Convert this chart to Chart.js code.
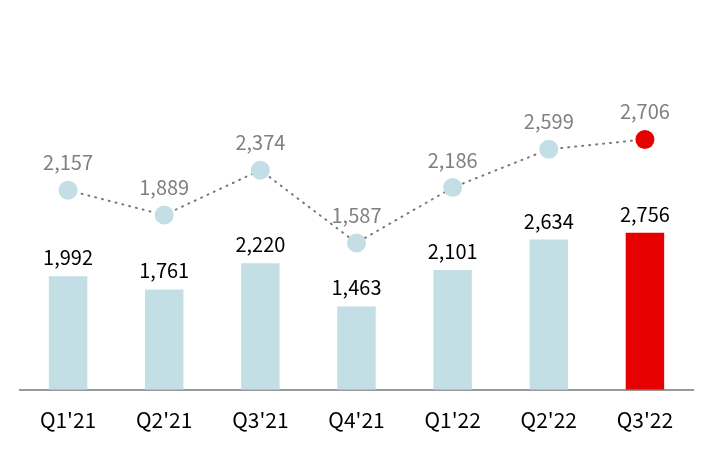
<!DOCTYPE html>
<html>
<head>
<meta charset="utf-8">
<script src="https://cdn.jsdelivr.net/npm/chart.js@4"></script>
<style>
  html, body { margin: 0; padding: 0; background: #fff; }
  #wrap { width: 714px; height: 450px; }
</style>
</head>
<body>
<div id="wrap"><canvas id="quarterChart"></canvas></div>
<script>
// quarterly bars + dotted line
const quarters = ["Q1'21", "Q2'21", "Q3'21", "Q4'21", "Q1'22", "Q2'22", "Q3'22"];
const barValues = [1992, 1761, 2220, 1463, 2101, 2634, 2756];
const lineValues = [2157, 1889, 2374, 1587, 2186, 2599, 2706];

const lightBlue = '#c4dee6';
const red = '#e60000';
const fontFamily = "'Noto Sans CJK KR', 'Noto Sans', sans-serif";

const barColors = barValues.map((v, i) => i === barValues.length - 1 ? red : lightBlue);
const pointColors = lineValues.map((v, i) => i === lineValues.length - 1 ? red : lightBlue);

const valueLabels = {
  id: 'valueLabels',
  afterDatasetsDraw(chart) {
    const ctx = chart.ctx;
    ctx.save();
    ctx.font = '20px ' + fontFamily;
    ctx.textAlign = 'center';
    ctx.textBaseline = 'alphabetic';

    chart.data.datasets.forEach((ds, di) => {
      const meta = chart.getDatasetMeta(di);
      meta.data.forEach((el, i) => {
        const text = ds.data[i].toLocaleString('en-US');
        if (ds.type === 'bar') {
          ctx.fillStyle = '#000';
          ctx.fillText(text, el.x, el.y - 11);
        } else {
          ctx.fillStyle = '#808080';
          ctx.fillText(text, el.x, el.y - 20);
        }
      });
    });
    ctx.restore();
  }
};

new Chart(document.getElementById('quarterChart'), {
  data: {
    labels: quarters,
    datasets: [{
      type: 'line',
      label: 'line',
      data: lineValues,
      yAxisID: 'y2',
      borderColor: '#777',
      borderWidth: 2,
      borderDash: [1, 6],
      borderCapStyle: 'round',
      pointRadius: 9.5,
      pointHoverRadius: 9.5,
      pointBackgroundColor: pointColors,
      pointBorderWidth: 0,
      tension: 0,
      order: 1
    }, {
      type: 'bar',
      label: 'bar',
      data: barValues,
      yAxisID: 'y',
      backgroundColor: barColors,
      barPercentage: 0.4,
      categoryPercentage: 1,
      order: 2
    }]
  },
  options: {
    responsive: true,
    maintainAspectRatio: false,
    animation: false,
    layout: {
      padding: { left: 20, right: 21, top: 0, bottom: 7 }
    },
    plugins: {
      legend: { display: false },
      tooltip: { enabled: false }
    },
    scales: {
      x: {
        grid: { display: false },
        border: { color: '#999', width: 2 },
        ticks: {
          color: '#000',
          padding: 10,
          font: { size: 21, family: fontFamily }
        }
      },
      y: {
        display: false,
        min: 0,
        max: 6670
      },
      y2: {
        display: false,
        min: 0,
        max: 4110
      }
    }
  },
  plugins: [valueLabels]
});
</script>
</body>
</html>
